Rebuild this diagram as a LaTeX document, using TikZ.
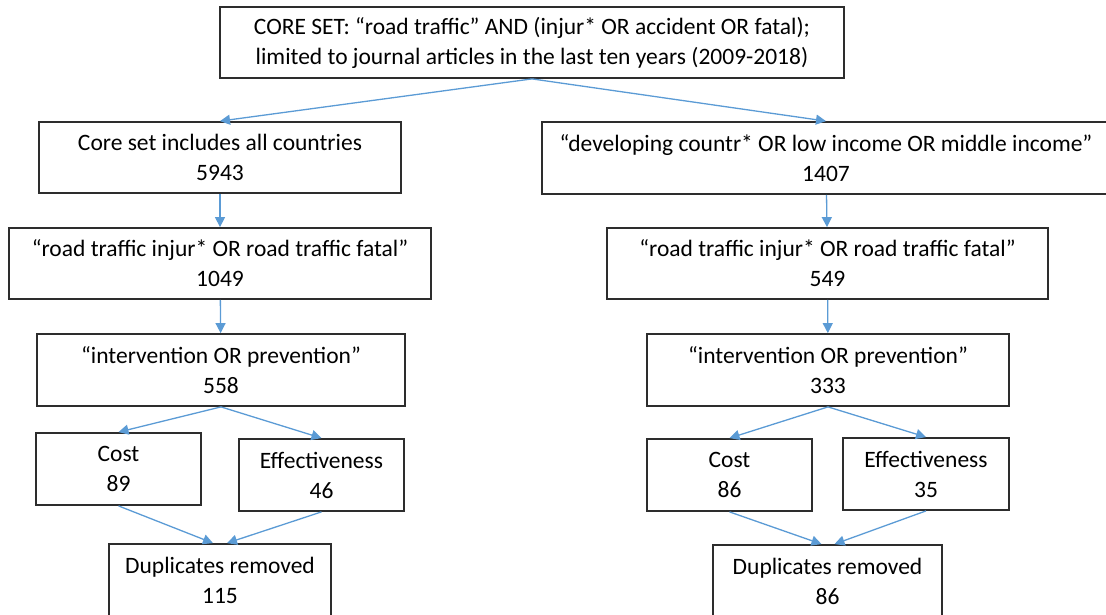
\documentclass[tikz,border=0pt]{standalone}
\usepackage{fontspec}
\setmainfont{Carlito}
\usepackage{xcolor}
\usepackage{tikz}
\usetikzlibrary{arrows.meta}
\definecolor{boxgray}{RGB}{45,45,45}
\definecolor{flowblue}{RGB}{91,155,213}

\tikzset{
  box/.style={draw=boxgray,line width=1.8pt,align=center,inner sep=0pt,
    font=\fontsize{23.5}{30}\selectfont},
  flow/.style={draw=flowblue,line width=1.3pt,-{Triangle[length=10pt,width=10pt]}}
}

\begin{document}
\begin{tikzpicture}[x=1pt,y=-1pt]
    \useasboundingbox (0,0) rectangle (1106,615);
    \clip (0,0) rectangle (1106,615);
    % search steps
    \node[box,minimum width=624pt,minimum height=71pt] (core) at (532,42.5)
        {CORE SET: “road traffic” AND (injur* OR accident OR fatal);\\limited to journal articles in the last ten years (2009-2018)};
    % all countries
    \node[box,minimum width=362pt,minimum height=71pt] (allc) at (220,157.5) {Core set includes all countries\\5943};
    \node[box,minimum width=422pt,minimum height=71pt] (rtiA) at (220,263.5) {“road traffic injur* OR road traffic fatal”\\1049};
    \node[box,minimum width=368pt,minimum height=72pt] (ivA) at (221,370) {“intervention OR prevention”\\558};
    \node[box,minimum width=165pt,minimum height=72pt] (costA) at (118.5,469) {Cost\\89};
    \node[box,minimum width=165pt,minimum height=72pt] (effA) at (321.5,475) {Effectiveness\\46};
    \node[box,minimum width=222pt,minimum height=73pt] (dupA) at (220,580.5) {Duplicates removed\\115};
    % developing countries
    \node[box,minimum width=568pt,minimum height=72pt] (devB) at (826,158) {“developing countr* OR low income OR middle income”\\1407};
    \node[box,minimum width=441pt,minimum height=71pt] (rtiB) at (827.5,263.5) {“road traffic injur* OR road traffic fatal”\\549};
    \node[box,minimum width=362pt,minimum height=72pt] (ivB) at (828,370) {“intervention OR prevention”\\333};
    \node[box,minimum width=165pt,minimum height=72pt] (costB) at (729.5,475) {Cost\\86};
    \node[box,minimum width=166pt,minimum height=72pt] (effB) at (926,474) {Effectiveness\\35};
    \node[box,minimum width=229pt,minimum height=73pt] (dupB) at (827.5,581.5) {Duplicates removed\\86};

    \draw[flow] (core.south) -- (allc.north);
    \draw[flow] (core.south) -- (devB.north);
    \draw[flow] (allc) -- (rtiA);
    \draw[flow] (rtiA) -- (ivA);
    \draw[flow] (ivA.south) -- (costA.north);
    \draw[flow] (ivA.south) -- (effA.north);
    \draw[flow] (costA.south) -- ([xshift=-7pt]dupA.north);
    \draw[flow] (effA.south) -- ([xshift=7pt]dupA.north);
    \draw[flow] (devB) -- (rtiB);
    \draw[flow] (rtiB) -- (ivB);
    \draw[flow] (ivB.south) -- (costB.north);
    \draw[flow] (ivB.south) -- (effB.north);
    \draw[flow] (costB.south) -- ([xshift=-6pt]dupB.north);
    \draw[flow] (effB.south) -- ([xshift=7pt]dupB.north);
\end{tikzpicture}
\end{document}
